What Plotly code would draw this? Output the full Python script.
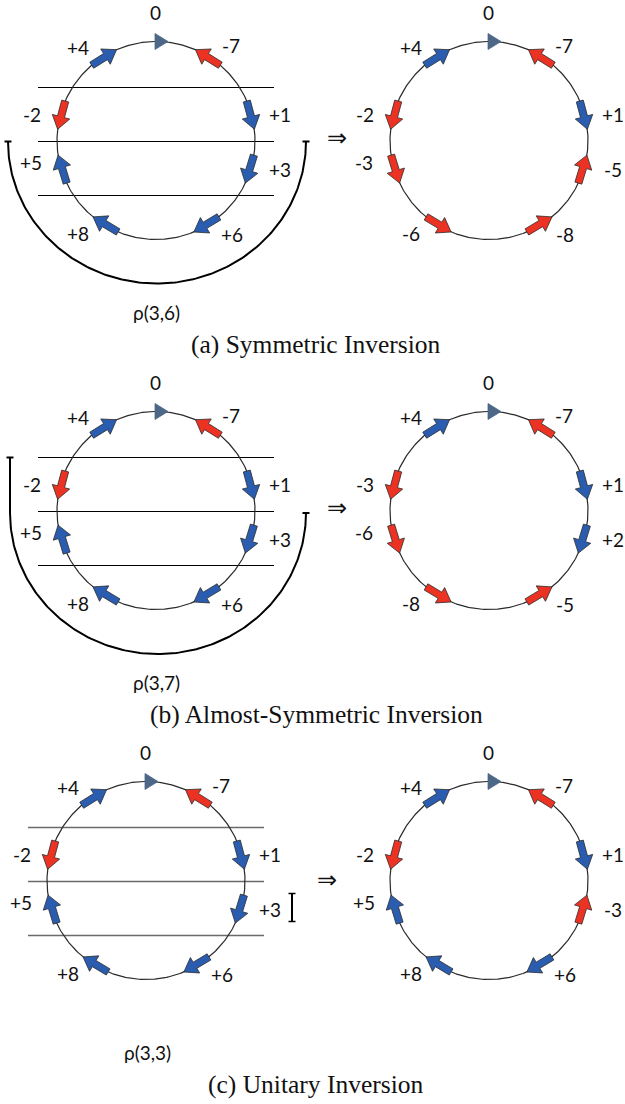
import numpy as np
import plotly.graph_objects as go

# ---------------- data ----------------
slot_angles = [32, 75, 107, 149, -149, -107, -75, -32]      # arrow slots, deg clockwise from top
label_angles = [38, 78, 103, 141, -140, -100, -78, -40]
zero_label = "0"

left_labels_a = ["-7", "+1", "+3", "+6", "+8", "+5", "-2", "+4"]
right_labels_a = ["-7", "+1", "-5", "-8", "-6", "-3", "-2", "+4"]
left_labels_b = ["-7", "+1", "+3", "+6", "+8", "+5", "-2", "+4"]
right_labels_b = ["-7", "+1", "+2", "-5", "-8", "-6", "-3", "+4"]
left_labels_c = ["-7", "+1", "+3", "+6", "+8", "+5", "-2", "+4"]
right_labels_c = ["-7", "+1", "-3", "+6", "+8", "+5", "-2", "+4"]

captions = ["(a) Symmetric Inversion", "(b) Almost-Symmetric Inversion", "(c) Unitary Inversion"]
rho_labels = ["ρ(3,6)", "ρ(3,7)", "ρ(3,3)"]

# ---------------- layout/style ----------------
W, H = 625, 1104
R = 99
BLUE = "#2a5db0"
RED = "#ec3323"
SLATE = "#4d6787"
OUT = "#2b2b2b"
LABEL_FONT = dict(family="Lato, Noto Sans, sans-serif", size=19, color="#111")
CAP_FONT = dict(family="Liberation Serif, DejaVu Serif, serif", size=25.5, color="#111")

panels = [
    dict(cy=140.5, lcx=156, rcx=489, left=left_labels_a, right=right_labels_a,
         lines_color="#000", cap_y=344, rho_xy=(156, 312), impl_xy=(337, 138)),
    dict(cy=510.5, lcx=156, rcx=489, left=left_labels_b, right=right_labels_b,
         lines_color="#000", cap_y=714, rho_xy=(156, 682), impl_xy=(337, 508)),
    dict(cy=880.5, lcx=146, rcx=489, left=left_labels_c, right=right_labels_c,
         lines_color="#6a6a6a", cap_y=1084, rho_xy=(147, 1052), impl_xy=(327, 880)),
]

fig = go.Figure()


def pt(cx, cy, ang, r=R):
    a = np.radians(ang)
    return np.array([cx + r * np.sin(a), cy - r * np.cos(a)])


def line(xs, ys, color="#000", width=1.0):
    fig.add_trace(go.Scatter(x=list(xs), y=list(ys), mode="lines",
                             line=dict(color=color, width=width),
                             hoverinfo="skip", showlegend=False))


def poly(pts, fill, outline=OUT, width=0.8):
    pts = list(pts) + [pts[0]]
    fig.add_trace(go.Scatter(x=[p[0] for p in pts], y=[p[1] for p in pts],
                             mode="lines", fill="toself", fillcolor=fill,
                             line=dict(color=outline, width=width),
                             hoverinfo="skip", showlegend=False))


def arrow(cx, cy, ang, d, color):
    tail = pt(cx, cy, ang - d * 8.5)
    tip = pt(cx, cy, ang + d * 8.5)
    u = (tip - tail) / np.linalg.norm(tip - tail)
    n = np.array([-u[1], u[0]])
    hl, hw, sw = 13, 9, 3.6
    base = tip - u * hl
    pts = [tail + n * sw, base + n * sw, base + n * hw, tip,
           base - n * hw, base - n * sw, tail - n * sw]
    poly(pts, color)


def circle_diagram(cx, cy, labels):
    t = np.linspace(0, 360, 361)
    line(cx + R * np.sin(np.radians(t)), cy - R * np.cos(np.radians(t)), "#2a2a2a", 1.2)
    # top marker (0)
    top = cy - R
    poly([(cx - 1, top - 8), (cx - 1, top + 8), (cx + 12, top)], SLATE, SLATE, 0.8)
    fig.add_annotation(x=cx - 1, y=cy - 128, text=zero_label, showarrow=False,
                       font=LABEL_FONT, xanchor="center", yanchor="middle")
    for ang, lang, lab in zip(slot_angles, label_angles, labels):
        sign = 1 if lab.startswith("+") else -1
        arrow(cx, cy, ang, sign, BLUE if sign > 0 else RED)
        rr = 121 if abs(lang) in (38, 40, 141, 140) else 127
        p = pt(cx, cy, lang, rr)
        fig.add_annotation(x=p[0], y=p[1], text=lab, showarrow=False,
                           font=LABEL_FONT, xanchor="center", yanchor="middle")


for i, P in enumerate(panels):
    cy, lcx, rcx = P["cy"], P["lcx"], P["rcx"]
    # horizontal cut lines through left circle
    for dy in (-53, 1, 55):
        line([lcx - 118, lcx + 118], [cy + dy, cy + dy], P["lines_color"], 1 if i < 2 else 1.5)
    circle_diagram(lcx, cy, P["left"])
    circle_diagram(rcx, cy, P["right"])

    # inversion brackets
    if i == 0:
        acx, acy, rx, ry = 157, cy + 1, 149, 142
        t = np.linspace(180, 360, 181)
        line(acx + rx * np.cos(np.radians(t)), acy - ry * np.sin(np.radians(t)), "#000", 2)
        for ex in (acx - rx, acx + rx):
            line([ex - 3.5, ex + 3.5], [acy, acy], "#000", 2)
    elif i == 1:
        acx, acy, rx, ry = 158, cy + 2.5, 148, 141
        t = np.linspace(180, 360, 181)
        line(acx + rx * np.cos(np.radians(t)), acy - ry * np.sin(np.radians(t)), "#000", 2)
        line([acx - rx, acx - rx], [cy - 53, acy], "#000", 2)
        line([acx - rx - 3.5, acx - rx + 3.5], [cy - 53, cy - 53], "#000", 2)
        line([acx + rx - 3.5, acx + rx + 3.5], [acy, acy], "#000", 2)
    else:
        bx, y0, y1 = 292, cy + 13, cy + 41
        line([bx, bx], [y0, y1], "#000", 2)
        line([bx - 3.5, bx + 3.5], [y0, y0], "#000", 1.5)
        line([bx - 3.5, bx + 3.5], [y1, y1], "#000", 1.5)

    fig.add_annotation(x=P["impl_xy"][0], y=P["impl_xy"][1], text="⇒", showarrow=False,
                       font=dict(family="DejaVu Sans, sans-serif", size=24, color="#111"),
                       xanchor="center", yanchor="middle")
    fig.add_annotation(x=P["rho_xy"][0], y=P["rho_xy"][1], text=rho_labels[i], showarrow=False,
                       font=LABEL_FONT, xanchor="center", yanchor="middle")
    fig.add_annotation(x=316, y=P["cap_y"], text=captions[i], showarrow=False,
                       font=CAP_FONT, xanchor="center", yanchor="middle")

fig.update_layout(
    width=W, height=H, autosize=False,
    margin=dict(l=0, r=0, t=0, b=0),
    paper_bgcolor="white", plot_bgcolor="white",
    xaxis=dict(range=[0, W], visible=False, fixedrange=True),
    yaxis=dict(range=[H, 0], visible=False, fixedrange=True),
    showlegend=False,
)
fig.write_html("out.html", config={"displayModeBar": False},
               post_script="document.body.style.margin='0';document.body.style.padding='0';"
                           "document.body.style.overflow='hidden';")
